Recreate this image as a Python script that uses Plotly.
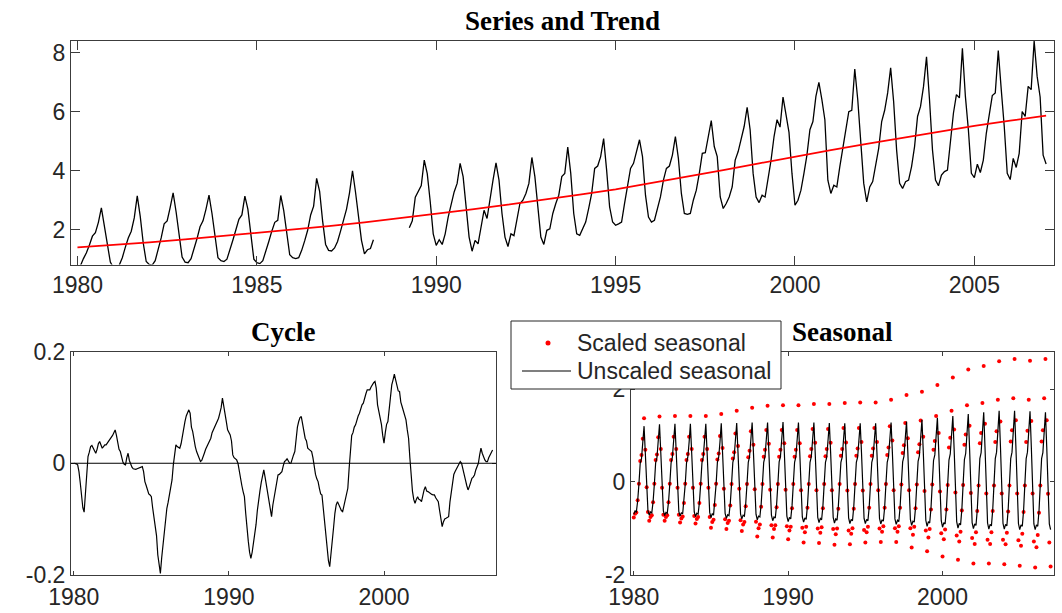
import plotly.graph_objects as go

# ---------------- data ----------------
years = list(range(1980, 2007))          # monthly rows, Jan..Dec
last_x = 2007.0                          # single trailing observation (Jan 2007)

# observed series, one row per year (None = missing observations)
series_rows = [
    [0.72, 0.78, 1.02, 1.22, 1.48, 1.78, 1.90, 2.25, 2.74, 2.15, 1.45, 0.90],
    [0.72, 0.70, 0.80, 1.05, 1.40, 1.72, 1.95, 2.40, 3.15, 2.45, 1.55, 0.92],
    [0.82, 0.80, 0.95, 1.30, 1.72, 2.20, 2.30, 2.75, 3.25, 2.60, 1.75, 1.07],
    [0.90, 0.88, 1.02, 1.35, 1.70, 2.10, 2.30, 2.70, 3.17, 2.55, 1.70, 1.05],
    [0.95, 0.92, 1.00, 1.30, 1.65, 2.00, 2.35, 2.50, 3.14, 2.70, 1.80, 1.00],
    [0.88, 0.85, 0.95, 1.25, 1.60, 1.95, 2.25, 2.32, 3.16, 2.65, 1.80, 1.15],
    [1.05, 1.02, 1.05, 1.30, 1.62, 1.98, 2.50, 2.80, 3.74, 3.30, 2.30, 1.50],
    [1.30, 1.28, 1.38, 1.60, 1.95, 2.30, 2.70, 3.25, 4.00, 3.28, 2.43, 1.64],
    [1.18, 1.32, 1.36, 1.66, None, None, None, None, None, None, None, None],
    [None, None, None, 2.07, 2.30, 3.10, 3.30, 3.50, 4.36, 3.90, 2.95, 1.86],
    [1.47, 1.66, 1.50, 1.86, 2.43, 2.89, 3.28, 3.57, 4.25, 3.80, 2.77, 1.75],
    [1.27, 1.64, 1.52, 2.03, 2.66, 2.38, 3.11, 3.68, 4.27, 3.68, 2.55, 1.75],
    [1.43, 1.86, 1.80, 2.32, 2.89, 3.00, 3.23, 3.57, 4.45, 3.80, 2.66, 1.75],
    [1.50, 1.98, 2.03, 2.55, 2.89, 3.17, 3.80, 3.91, 4.80, 3.91, 2.55, 1.86],
    [1.81, 2.03, 2.26, 2.72, 3.23, 4.08, 4.16, 4.48, 5.09, 4.02, 2.77, 2.26],
    [2.15, 2.20, 2.26, 2.89, 3.57, 4.08, 4.25, 4.70, 5.05, 4.48, 3.17, 2.43],
    [2.26, 2.32, 2.72, 3.11, 3.68, 4.08, 4.16, 4.53, 5.16, 4.42, 3.23, 2.55],
    [2.52, 2.55, 3.00, 3.34, 3.91, 4.59, 4.61, 5.16, 5.70, 4.82, 4.48, 3.11],
    [2.72, 2.89, 3.11, 3.45, 4.36, 4.65, 5.05, 5.50, 6.15, 5.39, 3.91, 3.11],
    [2.92, 3.17, 3.11, 3.68, 4.36, 5.16, 5.73, 5.48, 6.50, 5.90, 5.30, 3.90],
    [2.83, 3.00, 3.34, 3.91, 4.53, 5.39, 5.67, 6.52, 7.00, 6.41, 5.73, 3.68],
    [3.23, 3.51, 3.45, 4.14, 4.76, 5.50, 6.00, 6.05, 7.45, 6.41, 5.05, 3.57],
    [2.94, 3.45, 3.63, 4.14, 4.76, 5.67, 6.05, 6.64, 7.49, 6.35, 4.70, 3.57],
    [3.40, 3.63, 3.68, 4.14, 4.82, 5.84, 6.18, 6.86, 7.86, 6.41, 4.70, 3.68],
    [3.49, 3.85, 3.97, 4.02, 5.05, 5.95, 6.58, 6.47, 8.15, 6.52, 5.39, 3.91],
    [3.77, 4.22, 3.94, 4.36, 5.27, 5.84, 6.55, 6.64, 8.08, 6.75, 5.50, 3.91],
    [3.70, 4.42, 4.11, 4.59, 6.01, 5.84, 6.86, 6.75, 8.40, 7.20, 6.50, 4.53],
]
series_last = 4.23

# trend, one value per January 1980..2007
trend_years = list(range(1980, 2008))
trend_values = [1.40, 1.48, 1.57, 1.67, 1.78, 1.89, 2.00, 2.12, 2.25, 2.39,
                2.54, 2.69, 2.85, 3.01, 3.19, 3.37, 3.58, 3.80, 4.02, 4.25,
                4.48, 4.70, 4.91, 5.12, 5.32, 5.52, 5.70, 5.87]

# cycle component, one row per year
cycle_rows = [
    [0.000, 0.000, -0.001, -0.003, -0.015, -0.035, -0.060, -0.080, -0.088, -0.050, -0.015, 0.012],
    [0.020, 0.030, 0.032, 0.027, 0.022, 0.018, 0.025, 0.035, 0.039, 0.032, 0.027, 0.030],
    [0.033, 0.033, 0.036, 0.040, 0.042, 0.045, 0.050, 0.055, 0.060, 0.050, 0.035, 0.025],
    [0.021, 0.010, 0.002, -0.002, -0.003, 0.010, 0.018, 0.005, -0.003, -0.007, -0.010, -0.011],
    [-0.011, -0.010, -0.009, -0.009, -0.007, -0.006, -0.015, -0.033, -0.040, -0.048, -0.055, -0.057],
    [-0.060, -0.080, -0.100, -0.111, -0.130, -0.165, -0.185, -0.198, -0.170, -0.147, -0.120, -0.095],
    [-0.081, -0.070, -0.055, -0.048, -0.030, -0.003, 0.015, 0.033, 0.030, 0.028, 0.027, 0.035],
    [0.050, 0.065, 0.075, 0.085, 0.092, 0.096, 0.090, 0.065, 0.057, 0.040, 0.030, 0.021],
    [0.015, 0.008, 0.003, 0.005, 0.010, 0.018, 0.025, 0.030, 0.035, 0.039, 0.045, 0.055],
    [0.060, 0.063, 0.070, 0.075, 0.081, 0.090, 0.100, 0.117, 0.100, 0.085, 0.075, 0.060],
    [0.055, 0.051, 0.040, 0.015, 0.010, 0.008, 0.006, 0.000, -0.015, -0.025, -0.040, -0.051],
    [-0.060, -0.090, -0.123, -0.140, -0.160, -0.171, -0.160, -0.145, -0.129, -0.110, -0.085, -0.063],
    [-0.050, -0.035, -0.020, -0.012, -0.025, -0.040, -0.051, -0.070, -0.085, -0.096, -0.075, -0.060],
    [-0.051, -0.035, -0.021, -0.020, -0.018, -0.015, -0.005, 0.003, 0.005, 0.008, 0.004, 0.000],
    [0.000, 0.010, 0.015, 0.021, 0.045, 0.065, 0.075, 0.082, 0.084, 0.070, 0.055, 0.045],
    [0.040, 0.027, 0.025, 0.022, 0.021, 0.010, -0.009, -0.020, -0.028, -0.033, -0.045, -0.055],
    [-0.057, -0.080, -0.111, -0.135, -0.159, -0.175, -0.186, -0.165, -0.141, -0.115, -0.090, -0.075],
    [-0.069, -0.075, -0.080, -0.085, -0.087, -0.075, -0.063, -0.055, -0.045, -0.010, 0.030, 0.050],
    [0.055, 0.065, 0.069, 0.078, 0.085, 0.090, 0.100, 0.105, 0.108, 0.118, 0.125, 0.132],
    [0.132, 0.132, 0.137, 0.142, 0.145, 0.147, 0.135, 0.105, 0.093, 0.085, 0.070, 0.050],
    [0.036, 0.055, 0.070, 0.075, 0.100, 0.125, 0.141, 0.150, 0.160, 0.150, 0.140, 0.130],
    [0.129, 0.110, 0.102, 0.095, 0.085, 0.078, 0.060, 0.045, 0.010, -0.027, -0.050, -0.065],
    [-0.072, -0.065, -0.060, -0.065, -0.066, -0.069, -0.055, -0.048, -0.042, -0.050, -0.051, -0.053],
    [-0.055, -0.056, -0.057, -0.057, -0.062, -0.066, -0.069, -0.085, -0.100, -0.114, -0.105, -0.100],
    [-0.099, -0.097, -0.096, -0.070, -0.051, -0.035, -0.020, -0.015, -0.010, -0.005, 0.000, 0.003],
    [0.000, -0.012, -0.020, -0.030, -0.040, -0.048, -0.042, -0.035, -0.027, -0.025, -0.021, -0.012],
    [-0.005, 0.000, 0.015, 0.027, 0.018, 0.010, 0.006, 0.003, 0.003, 0.010, 0.015, 0.020],
]
cycle_last = 0.024

# seasonal component in its own units, one row per year
unscaled_rows = [
    [-0.70, -0.63, -0.65, -0.42, -0.05, 0.40, 0.50, 0.82, 1.20, 0.60, -0.15, -0.62],
    [-0.72, -0.65, -0.67, -0.43, -0.05, 0.41, 0.52, 0.84, 1.24, 0.62, -0.15, -0.63],
    [-0.73, -0.66, -0.68, -0.44, -0.05, 0.41, 0.53, 0.85, 1.25, 0.63, -0.15, -0.64],
    [-0.74, -0.67, -0.69, -0.44, -0.05, 0.41, 0.53, 0.85, 1.25, 0.63, -0.15, -0.65],
    [-0.75, -0.68, -0.70, -0.45, -0.05, 0.41, 0.53, 0.85, 1.25, 0.63, -0.15, -0.66],
    [-0.77, -0.69, -0.72, -0.46, -0.05, 0.42, 0.53, 0.86, 1.26, 0.63, -0.15, -0.68],
    [-0.79, -0.71, -0.73, -0.47, -0.05, 0.42, 0.53, 0.86, 1.27, 0.64, -0.15, -0.70],
    [-0.80, -0.72, -0.74, -0.48, -0.05, 0.42, 0.54, 0.87, 1.28, 0.64, -0.15, -0.70],
    [-0.82, -0.74, -0.76, -0.49, -0.05, 0.42, 0.54, 0.87, 1.28, 0.64, -0.15, -0.72],
    [-0.84, -0.76, -0.78, -0.50, -0.05, 0.43, 0.54, 0.88, 1.29, 0.65, -0.15, -0.74],
    [-0.86, -0.77, -0.80, -0.52, -0.05, 0.42, 0.54, 0.87, 1.28, 0.64, -0.15, -0.76],
    [-0.87, -0.78, -0.81, -0.52, -0.05, 0.42, 0.54, 0.87, 1.28, 0.64, -0.15, -0.77],
    [-0.88, -0.79, -0.82, -0.53, -0.05, 0.42, 0.53, 0.86, 1.27, 0.64, -0.15, -0.77],
    [-0.89, -0.80, -0.83, -0.53, -0.05, 0.42, 0.53, 0.86, 1.26, 0.63, -0.15, -0.78],
    [-0.90, -0.81, -0.84, -0.54, -0.05, 0.42, 0.53, 0.86, 1.26, 0.63, -0.15, -0.79],
    [-0.90, -0.81, -0.84, -0.54, -0.05, 0.42, 0.53, 0.86, 1.26, 0.63, -0.15, -0.79],
    [-0.91, -0.82, -0.85, -0.55, -0.05, 0.42, 0.54, 0.87, 1.28, 0.64, -0.15, -0.80],
    [-0.92, -0.83, -0.86, -0.55, -0.05, 0.43, 0.55, 0.88, 1.30, 0.65, -0.15, -0.81],
    [-0.94, -0.85, -0.87, -0.56, -0.05, 0.44, 0.56, 0.91, 1.34, 0.67, -0.15, -0.83],
    [-0.96, -0.86, -0.89, -0.58, -0.05, 0.46, 0.58, 0.94, 1.38, 0.69, -0.15, -0.84],
    [-0.98, -0.88, -0.91, -0.59, -0.05, 0.47, 0.60, 0.97, 1.42, 0.71, -0.15, -0.86],
    [-1.00, -0.90, -0.93, -0.60, -0.05, 0.48, 0.61, 0.99, 1.46, 0.73, -0.15, -0.88],
    [-1.01, -0.91, -0.94, -0.61, -0.05, 0.50, 0.63, 1.02, 1.50, 0.75, -0.15, -0.89],
    [-1.02, -0.92, -0.95, -0.61, -0.05, 0.50, 0.64, 1.04, 1.53, 0.77, -0.15, -0.90],
    [-1.02, -0.92, -0.95, -0.61, -0.05, 0.50, 0.64, 1.04, 1.53, 0.77, -0.15, -0.90],
    [-1.03, -0.93, -0.96, -0.62, -0.05, 0.50, 0.64, 1.03, 1.52, 0.76, -0.15, -0.91],
    [-1.03, -0.93, -0.96, -0.62, -0.05, 0.50, 0.63, 1.02, 1.50, 0.75, -0.15, -0.91],
]
unscaled_last = -1.03

# seasonal component expressed in series units, one row per year
scaled_rows = [
    [-0.77, -0.69, -0.66, -0.40, -0.04, 0.45, 0.58, 0.93, 1.37, 0.69, -0.12, -0.65],
    [-0.84, -0.76, -0.72, -0.44, -0.04, 0.47, 0.59, 0.96, 1.41, 0.71, -0.13, -0.71],
    [-0.84, -0.76, -0.72, -0.44, -0.04, 0.47, 0.60, 0.97, 1.42, 0.71, -0.13, -0.71],
    [-0.88, -0.79, -0.75, -0.46, -0.04, 0.47, 0.60, 0.97, 1.42, 0.71, -0.13, -0.74],
    [-0.90, -0.80, -0.76, -0.46, -0.04, 0.47, 0.60, 0.97, 1.42, 0.71, -0.13, -0.76],
    [-0.99, -0.87, -0.82, -0.50, -0.04, 0.48, 0.61, 0.99, 1.46, 0.73, -0.15, -0.81],
    [-1.02, -0.89, -0.84, -0.51, -0.05, 0.50, 0.64, 1.04, 1.53, 0.77, -0.15, -0.83],
    [-1.06, -0.92, -0.87, -0.53, -0.05, 0.53, 0.67, 1.09, 1.60, 0.80, -0.16, -0.86],
    [-1.18, -1.00, -0.92, -0.54, -0.05, 0.54, 0.69, 1.12, 1.64, 0.82, -0.17, -0.94],
    [-1.20, -1.02, -0.94, -0.55, -0.05, 0.54, 0.69, 1.12, 1.65, 0.83, -0.17, -0.96],
    [-1.24, -1.05, -0.97, -0.57, -0.05, 0.54, 0.69, 1.12, 1.65, 0.83, -0.18, -0.99],
    [-1.31, -1.09, -0.97, -0.56, -0.05, 0.55, 0.71, 1.14, 1.68, 0.84, -0.18, -1.01],
    [-1.32, -1.10, -0.98, -0.57, -0.05, 0.55, 0.71, 1.14, 1.68, 0.84, -0.18, -1.02],
    [-1.36, -1.13, -1.01, -0.58, -0.05, 0.56, 0.71, 1.16, 1.70, 0.85, -0.19, -1.05],
    [-1.35, -1.12, -1.00, -0.58, -0.05, 0.56, 0.72, 1.16, 1.71, 0.86, -0.19, -1.04],
    [-1.31, -1.09, -0.97, -0.56, -0.05, 0.56, 0.72, 1.16, 1.71, 0.86, -0.18, -1.01],
    [-1.30, -1.08, -0.96, -0.56, -0.05, 0.58, 0.74, 1.20, 1.77, 0.89, -0.18, -1.00],
    [-1.30, -1.08, -0.96, -0.56, -0.06, 0.62, 0.79, 1.27, 1.87, 0.94, -0.18, -1.00],
    [-1.42, -1.14, -0.97, -0.57, -0.06, 0.64, 0.81, 1.32, 1.94, 0.97, -0.20, -1.05],
    [-1.50, -1.20, -1.02, -0.60, -0.06, 0.69, 0.88, 1.42, 2.09, 1.05, -0.21, -1.11],
    [-1.61, -1.24, -1.03, -0.60, -0.07, 0.74, 0.95, 1.53, 2.25, 1.13, -0.23, -1.16],
    [-1.68, -1.29, -1.08, -0.62, -0.07, 0.80, 1.02, 1.65, 2.42, 1.21, -0.24, -1.21],
    [-1.76, -1.34, -1.09, -0.63, -0.08, 0.83, 1.05, 1.70, 2.50, 1.25, -0.25, -1.25],
    [-1.76, -1.34, -1.09, -0.63, -0.08, 0.86, 1.09, 1.77, 2.60, 1.30, -0.25, -1.25],
    [-1.78, -1.35, -1.10, -0.64, -0.08, 0.87, 1.11, 1.80, 2.65, 1.33, -0.25, -1.26],
    [-1.81, -1.38, -1.12, -0.65, -0.08, 0.86, 1.10, 1.77, 2.61, 1.31, -0.25, -1.29],
    [-1.85, -1.41, -1.15, -0.67, -0.08, 0.87, 1.11, 1.80, 2.65, 1.33, -0.26, -1.31],
]
scaled_last = -1.83

# tick labels
top_xticks = [1980, 1985, 1990, 1995, 2000, 2005]
top_yticks = [2, 4, 6, 8]
bottom_xticks = [1980, 1990, 2000]
cycle_yticks = [-0.2, 0, 0.2]
cycle_ylabels = ["-0.2", "0", "0.2"]
seasonal_yticks = [-2, 0, 2]
seasonal_ylabels = ["-2", "0", "2"]
legend_labels = ["Scaled seasonal", "Unscaled seasonal"]


# ---------------- helpers ----------------
def monthly_x():
    return [y + m / 12 for y in years for m in range(12)] + [last_x]


def flatten(rows, last):
    return [v for row in rows for v in row] + [last]


W, H = 1062, 613
X_RANGE = [1979.82, 2007.22]
AX_COLOR = "#3c3c3c"
TICK_FONT = dict(family="Liberation Sans, Arial, sans-serif", size=23, color="#262626")
TITLE_FONT = dict(family="Liberation Serif, Times New Roman, serif", size=27, color="#000000")
LEGEND_FONT = dict(family="Liberation Sans, Arial, sans-serif", size=23, color="#262626")


def px_x(p):
    return p / W


def px_y(p):
    return 1 - p / H


def axis_style(ticklen, **kw):
    d = dict(showline=True, linecolor=AX_COLOR, linewidth=1, mirror="ticks",
             ticks="inside", ticklen=ticklen, tickcolor=AX_COLOR, tickwidth=1,
             showgrid=False, zeroline=False, tickfont=TICK_FONT, automargin=False)
    d.update(kw)
    return d


mx = monthly_x()

fig = go.Figure()

# Series and trend
fig.add_trace(go.Scatter(x=mx, y=flatten(series_rows, series_last), mode="lines",
                         line=dict(color="black", width=1.3), showlegend=False,
                         xaxis="x", yaxis="y"))
fig.add_trace(go.Scatter(x=trend_years, y=trend_values, mode="lines",
                         line=dict(color="#ff0000", width=1.7), showlegend=False,
                         xaxis="x", yaxis="y"))

# Cycle
fig.add_trace(go.Scatter(x=mx, y=flatten(cycle_rows, cycle_last), mode="lines",
                         line=dict(color="black", width=1.2), showlegend=False,
                         xaxis="x2", yaxis="y2"))

# Seasonal
fig.add_trace(go.Scatter(x=mx, y=flatten(scaled_rows, scaled_last), mode="markers",
                         marker=dict(color="#ff0000", size=4, symbol="circle"),
                         name=legend_labels[0], showlegend=False, xaxis="x3", yaxis="y3"))
fig.add_trace(go.Scatter(x=mx, y=flatten(unscaled_rows, unscaled_last), mode="lines",
                         line=dict(color="black", width=1.2),
                         name=legend_labels[1], showlegend=False, xaxis="x3", yaxis="y3"))

top_y0, top_y1 = 41, 264.5
bot_y0, bot_y1 = 352, 574.5

# legend box for the seasonal panel (drawn over the tick labels it covers)
leg_x0, leg_x1, leg_y0, leg_y1 = 511, 781, 321, 389
row_y = [343, 371]
legend_shapes = [
    dict(type="rect", xref="paper", yref="paper", layer="above",
         x0=px_x(leg_x0), x1=px_x(leg_x1), y0=px_y(leg_y1), y1=px_y(leg_y0),
         fillcolor="white", line=dict(color="#262626", width=1)),
    dict(type="circle", xref="paper", yref="paper", layer="above",
         x0=px_x(545.5), x1=px_x(550.5), y0=px_y(row_y[0] + 2.5), y1=px_y(row_y[0] - 2.5),
         fillcolor="#ff0000", line=dict(width=0)),
    dict(type="line", xref="paper", yref="paper", layer="above",
         x0=px_x(522), x1=px_x(571), y0=px_y(row_y[1]), y1=px_y(row_y[1]),
         line=dict(color="black", width=1.2)),
]

fig.update_layout(
    width=W, height=H,
    margin=dict(l=0, r=0, t=0, b=0, autoexpand=False),
    paper_bgcolor="white", plot_bgcolor="white",
    showlegend=False,
    xaxis=axis_style(9, domain=[px_x(71), px_x(1054)], anchor="y", range=X_RANGE,
                     tickvals=top_xticks),
    yaxis=axis_style(9, domain=[px_y(top_y1), px_y(top_y0)], anchor="x", range=[0.82, 8.40],
                     tickvals=top_yticks),
    xaxis2=axis_style(4, domain=[px_x(71), px_x(496)], anchor="y2", range=X_RANGE,
                      tickvals=bottom_xticks, ticklabelstandoff=2),
    yaxis2=axis_style(4, domain=[px_y(bot_y1), px_y(bot_y0)], anchor="x2", range=[-0.2, 0.2],
                      tickvals=cycle_yticks, ticktext=cycle_ylabels),
    xaxis3=axis_style(4, domain=[px_x(631), px_x(1054)], anchor="y3", range=X_RANGE,
                      tickvals=bottom_xticks, ticklabelstandoff=2),
    yaxis3=axis_style(4, domain=[px_y(bot_y1), px_y(bot_y0)], anchor="x3", range=[-2, 2.8],
                      tickvals=seasonal_yticks, ticktext=seasonal_ylabels),
    shapes=[dict(type="line", xref="x2 domain", yref="y2", x0=0, x1=1, y0=0, y1=0,
                 line=dict(color="black", width=1))] + legend_shapes,
    annotations=[
        dict(text="<b>Series and Trend</b>", x=px_x(562), y=px_y(21), xref="paper", yref="paper",
             xanchor="center", yanchor="middle", showarrow=False, font=TITLE_FONT),
        dict(text="<b>Cycle</b>", x=px_x(283), y=px_y(332), xref="paper", yref="paper",
             xanchor="center", yanchor="middle", showarrow=False, font=TITLE_FONT),
        dict(text="<b>Seasonal</b>", x=px_x(842), y=px_y(332), xref="paper", yref="paper",
             xanchor="center", yanchor="middle", showarrow=False, font=TITLE_FONT),
        dict(text=legend_labels[0], x=px_x(575), y=px_y(row_y[0]), xref="paper", yref="paper",
             xanchor="left", yanchor="middle", showarrow=False, font=LEGEND_FONT),
        dict(text=legend_labels[1], x=px_x(575), y=px_y(row_y[1]), xref="paper", yref="paper",
             xanchor="left", yanchor="middle", showarrow=False, font=LEGEND_FONT),
    ],
)

fig.write_html("out.html")
